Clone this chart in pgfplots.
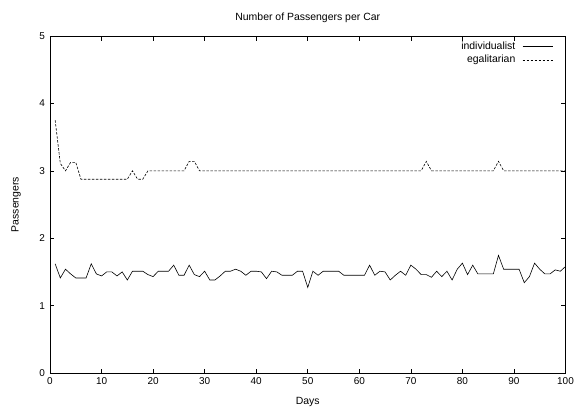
\documentclass[border=0pt]{standalone}
\usepackage{pgfplots}
\pgfplotsset{compat=1.18}
\usepackage{pgfplotstable}
\usepackage{fontspec}
\setmainfont{Liberation Sans}
\pgfplotstableread{
x y
1 1.62
2 1.41
3 1.54
4 1.47
5 1.41
6 1.41
7 1.41
8 1.62
9 1.47
10 1.44
11 1.5
12 1.5
13 1.44
14 1.5
15 1.38
16 1.51
17 1.51
18 1.51
19 1.46
20 1.43
21 1.51
22 1.51
23 1.51
24 1.6
25 1.45
26 1.45
27 1.6
28 1.46
29 1.43
30 1.51
31 1.38
32 1.38
33 1.44
34 1.51
35 1.51
36 1.54
37 1.51
38 1.45
39 1.51
40 1.51
41 1.5
42 1.40
43 1.51
44 1.5
45 1.45
46 1.45
47 1.45
48 1.51
49 1.51
50 1.27
51 1.51
52 1.45
53 1.51
54 1.51
55 1.51
56 1.51
57 1.45
58 1.45
59 1.45
60 1.45
61 1.45
62 1.6
63 1.45
64 1.51
65 1.5
66 1.38
67 1.45
68 1.51
69 1.45
70 1.6
71 1.54
72 1.46
73 1.46
74 1.42
75 1.51
76 1.43
77 1.51
78 1.38
79 1.54
80 1.63
81 1.46
82 1.6
83 1.47
84 1.47
85 1.47
86 1.47
87 1.745
88 1.54
89 1.54
90 1.54
91 1.54
92 1.34
93 1.43
94 1.63
95 1.54
96 1.47
97 1.47
98 1.53
99 1.51
100 1.58
}\indiv
\pgfplotstableread{
x y
1 3.75
2 3.11
3 3.0
4 3.125
5 3.125
6 2.875
7 2.875
8 2.875
9 2.875
10 2.875
11 2.875
12 2.875
13 2.875
14 2.875
15 2.875
16 3.0
17 2.875
18 2.875
19 3.0
20 3.0
21 3.0
22 3.0
23 3.0
24 3.0
25 3.0
26 3.0
27 3.14
28 3.14
29 3.0
30 3.0
40 3.0
50 3.0
60 3.0
72 3.0
73 3.14
74 3.0
80 3.0
86 3.0
87 3.14
88 3.0
100 3.0
}\egal
\begin{document}
\begin{tikzpicture}
\useasboundingbox (-50bp,-34bp) rectangle (527bp,373bp);
\begin{axis}[
  scale only axis,
  width=515.5bp, height=337bp,
  xmin=0, xmax=100, ymin=0, ymax=5,
  xtick={0,10,...,100}, ytick={0,1,...,5},
  tick align=inside,
  major tick length=4.5bp,
  axis line style={line width=0.9bp},
  every tick/.style={black, line width=0.6bp},
  /pgf/number format/assume math mode=true,
  ticklabel style={font=\fontsize{10}{12}\selectfont},
  title={Number of Passengers per Car},
  title style={at={(0.5,1)}, anchor=base, yshift=10bp, font=\fontsize{10.5}{12}\selectfont},
  xlabel={Days},
  ylabel={Passengers},
  xlabel style={at={(0.5,0)}, anchor=base, yshift=-31bp, font=\fontsize{10.5}{12}\selectfont},
  ylabel style={at={(0,0.5)}, anchor=center, yshift=34bp, font=\fontsize{10.5}{12}\selectfont},
  xticklabel style={yshift=-1bp},
  yticklabel style={xshift=-1.5bp},
  legend style={at={(0.976,0.988)}, anchor=north east, draw=none, fill=none,
    font=\fontsize{10.5}{12}\selectfont, row sep=0bp, inner sep=0pt},
  legend cell align=right,
  legend plot pos=right,
  legend image code/.code={\path (0bp,0bp); \draw[#1] (5bp,0bp) -- (35bp,0bp);},
]
\addplot[black, line width=0.6bp] table[x=x,y=y] {\indiv};
\addlegendentry{individualist}
\addplot[black, line width=0.6bp, dash pattern=on 2.5bp off 1.5bp] table[x=x,y=y] {\egal};
\addlegendentry{egalitarian}
\end{axis}
\end{tikzpicture}
\end{document}
